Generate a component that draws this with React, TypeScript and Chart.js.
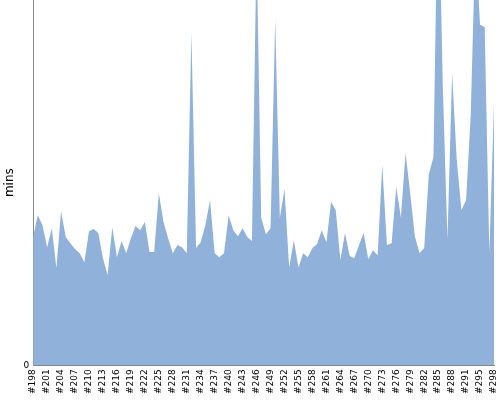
import React, { useEffect, useRef } from 'react';
import { Chart, registerables } from 'chart.js';

Chart.register(...registerables);

const buildLabels: string[] = [
  '#198', '#199', '#200', '#201', '#202', '#203', '#204', '#205', '#206', '#207',
  '#208', '#209', '#210', '#211', '#212', '#213', '#214', '#215', '#216', '#217',
  '#218', '#219', '#220', '#221', '#222', '#223', '#224', '#225', '#226', '#227',
  '#228', '#229', '#230', '#231', '#232', '#233', '#234', '#235', '#236', '#237',
  '#238', '#239', '#240', '#241', '#242', '#243', '#244', '#245', '#246', '#247',
  '#248', '#249', '#250', '#251', '#252', '#253', '#254', '#255', '#256', '#257',
  '#258', '#259', '#260', '#261', '#262', '#263', '#264', '#265', '#266', '#267',
  '#268', '#269', '#270', '#271', '#272', '#273', '#274', '#275', '#276', '#277',
  '#278', '#279', '#280', '#281', '#282', '#283', '#284', '#285', '#286', '#287',
  '#288', '#289', '#290', '#291', '#292', '#294', '#295', '#296', '#297', '#298',
];

const durationMins: number[] = [
  3.51, 4.11, 3.84, 3.23, 3.75, 2.66, 4.22, 3.51, 3.34, 3.18,
  3.07, 2.82, 3.67, 3.73, 3.62, 2.93, 2.47, 3.78, 2.96, 3.40,
  3.07, 3.48, 3.81, 3.70, 3.92, 3.10, 3.10, 4.71, 3.92, 3.48,
  3.07, 3.29, 3.23, 3.07, 9.10, 3.21, 3.37, 3.84, 4.52, 3.07,
  2.96, 3.07, 4.11, 3.70, 3.53, 3.75, 3.51, 3.40, 11.51, 4.03,
  3.59, 3.75, 9.48, 4.03, 4.82, 2.68, 3.42, 2.68, 3.07, 2.96,
  3.21, 3.32, 3.70, 3.37, 4.47, 4.25, 2.88, 3.62, 2.99, 2.93,
  3.29, 3.62, 2.90, 3.15, 3.01, 5.48, 3.29, 3.34, 4.88, 4.05,
  5.81, 4.71, 3.53, 3.07, 3.21, 5.23, 5.70, 13.73, 7.67, 3.45,
  8.00, 5.62, 4.25, 4.52, 6.85, 11.64, 9.32, 9.26, 3.07, 7.18,
];

const yTickValues: number[] = [0];

export default function App() {
  const canvasRef = useRef<HTMLCanvasElement | null>(null);

  useEffect(() => {
    document.body.style.margin = '0';
    const canvas = canvasRef.current;
    if (!canvas) return;
    Chart.defaults.font.family = '"DejaVu Sans", Verdana, sans-serif';
    const chart = new Chart(canvas, {
      type: 'line',
      data: {
        labels: buildLabels,
        datasets: [
          {
            label: 'mins',
            data: durationMins,
            fill: 'origin',
            backgroundColor: 'rgb(144, 178, 218)',
            borderWidth: 0,
            borderColor: 'rgba(0,0,0,0)',
            pointRadius: 0,
            pointHoverRadius: 0,
            tension: 0,
          },
        ],
      },
      options: {
        animation: false,
        responsive: false,
        maintainAspectRatio: false,
        layout: { padding: { top: 0, right: 6, bottom: 2, left: 0 } },
        plugins: {
          legend: { display: false },
          tooltip: { enabled: false },
        },
        scales: {
          x: {
            type: 'category',
            offset: false,
            grid: { display: false, drawTicks: false },
            border: { display: true, color: '#888888', width: 1 },
            afterFit: (axis: any) => {
              axis.paddingLeft = 0;
              axis.paddingRight = 0;
            },
            ticks: {
              autoSkip: false,
              maxRotation: 90,
              minRotation: 90,
              color: '#000000',
              font: { size: 9 },
              padding: 4,
              callback: (_v: any, idx: number) => (idx % 3 === 0 ? buildLabels[idx] : ''),
            },
          },
          y: {
            min: 0,
            max: 10,
            grid: { display: false, drawTicks: false },
            border: { display: true, color: '#888888', width: 1 },
            afterBuildTicks: (axis: any) => {
              axis.ticks = yTickValues.map((v) => ({ value: v }));
            },
            afterFit: (axis: any) => {
              axis.paddingTop = 0;
              axis.paddingBottom = 0;
            },
            ticks: {
              color: '#000000',
              font: { size: 9 },
              padding: 4,
            },
            title: {
              display: true,
              text: 'mins',
              color: '#000000',
              font: { size: 12 },
              padding: { top: 3, bottom: 2 },
            },
          },
        },
      },
    });
    return () => chart.destroy();
  }, []);

  return (
    <div style={{ width: 500, height: 400 }}>
      <canvas ref={canvasRef} width={500} height={400} style={{ display: 'block' }} />
    </div>
  );
}
